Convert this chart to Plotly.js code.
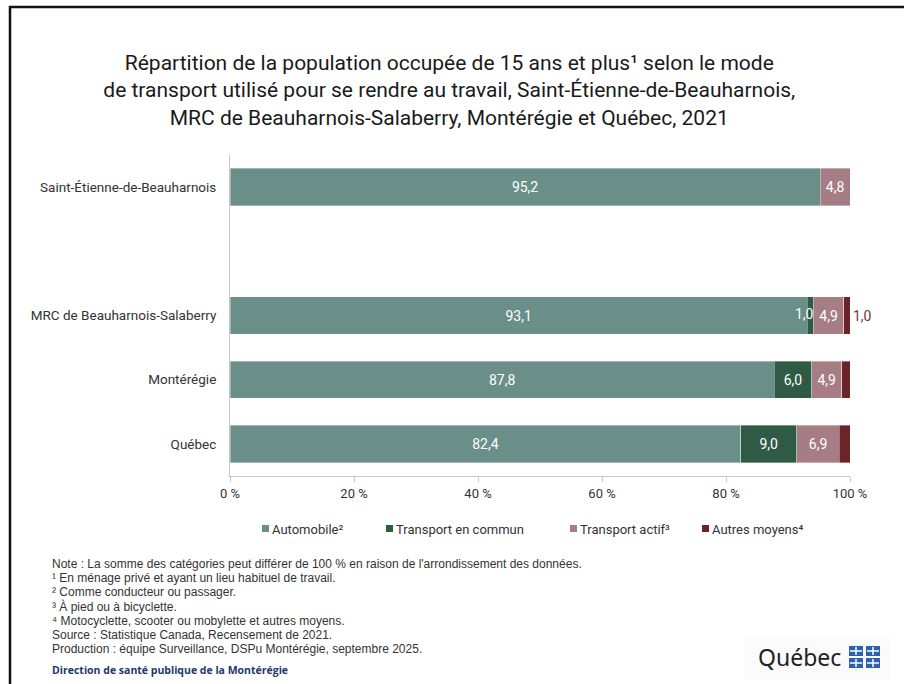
<!DOCTYPE html>
<html>
<head>
<meta charset="utf-8">
<script src="https://cdn.plot.ly/plotly-3.0.1.min.js"></script>
<style>
html,body{margin:0;padding:0;background:#fff;}
#chart{width:904px;height:684px;}
</style>
</head>
<body>
<div id="chart"></div>
<script>
// ---- Data ----
const categories = ['Québec', 'Montérégie', 'MRC de Beauharnois-Salaberry', ' ', 'Saint-Étienne-de-Beauharnois'];
const automobile = [82.4, 87.8, 93.1, null, 95.2];
const transportEnCommun = [9.0, 6.0, 1.0, null, 0];
const transportActif = [6.9, 4.9, 4.9, null, 4.8];
const autresMoyens = [1.7, 1.4, 1.0, null, 0];
const seriesNames = ['Automobile²', 'Transport en commun', 'Transport actif³', 'Autres moyens⁴'];
const seriesColors = ['#6a8f88', '#2e5a46', '#a67d84', '#6b2528'];
const xTickVals = [0, 20, 40, 60, 80, 100];

const titleText = 'Répartition de la population occupée de 15 ans et plus¹ selon le mode<br>' +
  'de transport utilisé pour se rendre au travail, Saint-Étienne-de-Beauharnois,<br>' +
  'MRC de Beauharnois-Salaberry, Montérégie et Québec, 2021';
const noteLines = [
  'Note : La somme des catégories peut différer de 100 % en raison de l\'arrondissement des données.',
  '¹ En ménage privé et ayant un lieu habituel de travail.',
  '² Comme conducteur ou passager.',
  '³ À pied ou à bicyclette.',
  '⁴ Motocyclette, scooter ou mobylette et autres moyens.',
  'Source : Statistique Canada, Recensement de 2021.',
  'Production : équipe Surveillance, DSPu Montérégie, septembre 2025.'
];

// ---- Layout helpers ----
const W = 904, H = 684;
const M = {l: 230, r: 54, t: 155, b: 208};
const pw = W - M.l - M.r, ph = H - M.t - M.b;
const px = x => (x - M.l) / pw;
const py = y => (H - M.b - y) / ph;

const fmt = v => (v === null || v === 0) ? '' : v.toFixed(1).replace('.', ',');
const chartFont = 'Roboto, "Liberation Sans", sans-serif';
const SMALL = 2; // values too small for an inside label

const allSeries = [automobile, transportEnCommun, transportActif, autresMoyens];

function barTrace(i, textColor, pos) {
  const vals = allSeries[i];
  return {
    type: 'bar', orientation: 'h', name: seriesNames[i],
    y: categories, x: vals,
    text: vals.map(v => (pos === 'inside' && v !== null && v < SMALL) ? '' : fmt(v)),
    textposition: pos, textangle: 0,
    constraintext: 'none', insidetextanchor: 'middle', cliponaxis: false,
    textfont: {family: chartFont, size: 14, color: textColor},
    marker: {color: seriesColors[i], line: {color: 'rgba(255,255,255,0.6)', width: 0.6}},
    showlegend: false, hoverinfo: 'x+name'
  };
}

const data = [
  barTrace(0, '#ffffff', 'inside'),
  barTrace(1, '#ffffff', 'inside'),
  barTrace(2, '#ffffff', 'inside'),
  barTrace(3, '#6b3a30', 'outside')
];

// overlay labels for small inside segments (anchored at the segment's right end)
const smallX = [], smallY = [], smallT = [];
categories.forEach((c, k) => {
  let cum = 0;
  for (let i = 0; i < 3; i++) {
    const v = allSeries[i][k];
    if (v === null) continue;
    cum += v;
    if (v > 0 && v < SMALL) { smallX.push(cum); smallY.push(c); smallT.push(fmt(v)); }
  }
});
data.push({type: 'scatter', mode: 'text', x: smallX, y: smallY, text: smallT,
  textposition: 'middle left', cliponaxis: false, showlegend: false, hoverinfo: 'skip',
  textfont: {family: chartFont, size: 14, color: '#ffffff'}});

const shapes = [
  // frame
  {type: 'line', xref: 'paper', yref: 'paper', x0: px(9), x1: px(904), y0: py(7), y1: py(7), line: {color: '#111', width: 2.5}},
  {type: 'line', xref: 'paper', yref: 'paper', x0: px(10), x1: px(10), y0: py(6), y1: py(684), line: {color: '#111', width: 2.5}},
  // logo background
  {type: 'rect', xref: 'paper', yref: 'paper', x0: px(745), x1: px(890), y0: py(636), y1: py(680),
    fillcolor: '#fbfbfb', line: {width: 0}, layer: 'below'}
];
// Québec flag mark (2x2 blue squares)
[[849, 646], [866, 646], [849, 658], [866, 658]].forEach(([x, y]) => {
  shapes.push({type: 'rect', xref: 'paper', yref: 'paper', x0: px(x), x1: px(x + 14), y0: py(y), y1: py(y + 10),
    fillcolor: '#2a62b0', line: {width: 0}});
  shapes.push({type: 'line', xref: 'paper', yref: 'paper', x0: px(x + 7), x1: px(x + 7), y0: py(y + 1), y1: py(y + 9),
    line: {color: '#fff', width: 1.5}});
  shapes.push({type: 'line', xref: 'paper', yref: 'paper', x0: px(x + 1), x1: px(x + 13), y0: py(y + 5), y1: py(y + 5),
    line: {color: '#fff', width: 1.5}});
});

const annotations = [];
// legend (manual, compact markers)
const legendX = [262, 386, 570, 702];
seriesNames.forEach((n, i) => {
  shapes.push({type: 'rect', xref: 'paper', yref: 'paper', x0: px(legendX[i]), x1: px(legendX[i] + 7),
    y0: py(525), y1: py(532), fillcolor: seriesColors[i], line: {width: 0}});
  annotations.push({text: n, xref: 'paper', yref: 'paper', x: px(legendX[i] + 8), y: py(529),
    xanchor: 'left', yanchor: 'middle', showarrow: false,
    font: {family: chartFont, size: 13, color: '#333'}});
});
noteLines.forEach((t, i) => {
  annotations.push({text: t, xref: 'paper', yref: 'paper', x: px(50), y: py(564 + i * 14.2),
    xanchor: 'left', yanchor: 'middle', showarrow: false,
    font: {family: '"Liberation Sans", Arial, sans-serif', size: 12, color: '#333'}});
});
annotations.push({text: '<b>Direction de santé publique de la Montérégie</b>', xref: 'paper', yref: 'paper',
  x: px(50), y: py(670), xanchor: 'left', yanchor: 'middle', showarrow: false,
  font: {family: '"Open Sans", sans-serif', size: 10.5, color: '#23386b'}});
annotations.push({text: 'Québec', xref: 'paper', yref: 'paper',
  x: px(843), y: py(657), xanchor: 'right', yanchor: 'middle', showarrow: false,
  font: {family: '"Noto Sans", sans-serif', size: 23, color: '#222'}});

const layout = {
  width: W, height: H,
  margin: M,
  paper_bgcolor: '#fff', plot_bgcolor: '#fff',
  font: {family: chartFont, size: 12, color: '#333'},
  separators: ', ',
  barmode: 'stack', bargap: 0.42,
  title: {text: titleText, xref: 'container', x: 0.497, yref: 'container', y: 1 - 70 / H,
    xanchor: 'center', yanchor: 'middle',
    font: {family: chartFont, size: 21, color: '#1a1a1a'}},
  xaxis: {range: [0, 100], tickvals: xTickVals, ticktext: xTickVals.map(v => v + ' %'),
    showgrid: false, zeroline: false, showline: true, linecolor: '#c8c8c8', linewidth: 1,
    ticks: 'outside', ticklen: 5, tickcolor: '#c8c8c8', fixedrange: true,
    tickfont: {family: chartFont, size: 13, color: '#333'}},
  yaxis: {type: 'category', categoryorder: 'array', categoryarray: categories,
    range: [-0.5, 4.5], showgrid: false, zeroline: false, showline: true, linecolor: '#c8c8c8',
    ticks: '', ticklabelstandoff: 10, fixedrange: true,
    tickfont: {family: chartFont, size: 13.5, color: '#333'}},
  showlegend: false,
  shapes: shapes,
  annotations: annotations
};

Plotly.newPlot('chart', data, layout, {displayModeBar: false, staticPlot: true});
</script>
</body>
</html>
